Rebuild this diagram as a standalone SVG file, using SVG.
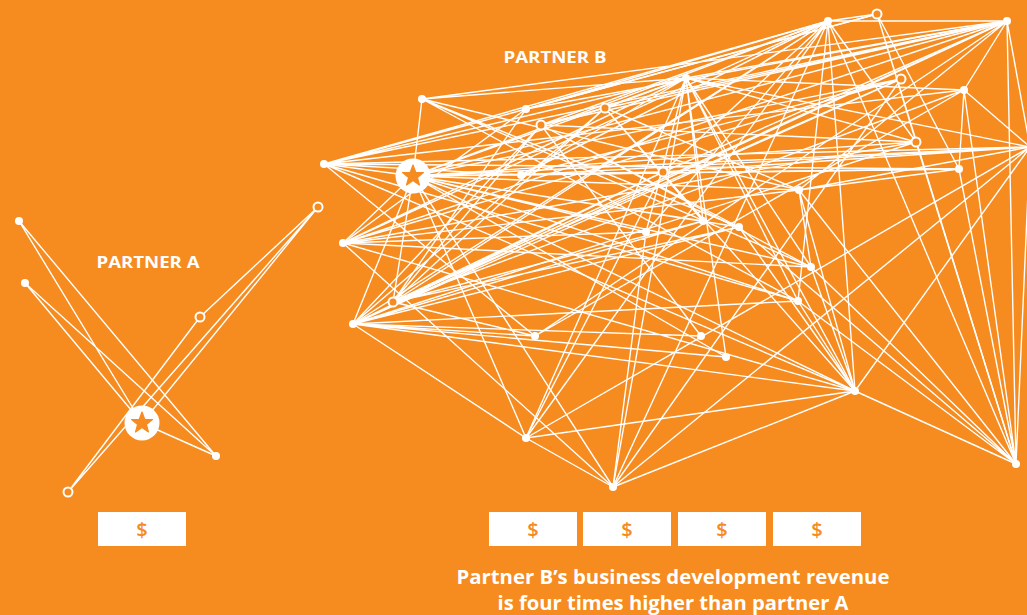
<svg xmlns="http://www.w3.org/2000/svg" width="1027" height="615" viewBox="0 0 1027 615">
  <defs>
    <style>
      .bg { fill: #F68B1F; }
      .edge { fill: none; stroke: #FFFFFF; stroke-width: 1.4; stroke-linecap: round; }
      .dot { fill: #FFFFFF; }
      .ring { fill: #F68B1F; stroke: #FFFFFF; stroke-width: 2; }
      .hub { fill: #FFFFFF; }
      .starmark { fill: #F68B1F; stroke: #F68B1F; stroke-width: 1.2; stroke-linejoin: round; }
      .label { fill: #FFFFFF; font-family: "Open Sans", "Liberation Sans", sans-serif; font-weight: 700; font-size: 16px; text-anchor: middle; }
      .caption { fill: #FFFFFF; font-family: "Open Sans", "Liberation Sans", sans-serif; font-weight: 700; font-size: 20px; text-anchor: middle; }
      .box { fill: #FFFFFF; }
      .cash { fill: #F68B1F; font-family: "Open Sans", "Liberation Sans", sans-serif; font-weight: 600; font-size: 20px; text-anchor: middle; }
    </style>
    <g id="star-hub">
      <circle class="hub" r="17.5"/>
      <polygon class="starmark" points="0,-11 2.7,-3.72 10.46,-3.4 4.37,1.42 6.47,8.9 0,4.6 -6.47,8.9 -4.37,1.42 -10.46,-3.4 -2.7,-3.72"/>
    </g>
  </defs>

  <rect class="bg" x="0" y="0" width="1027" height="615"/>

  <!-- connectors -->
  <g id="connectors">
    <!-- partner A network -->
    <path id="edges-a" class="edge" d="M19 221L142 423M19 221L216 456M25 283L142 423M25 283L216 456M318 207L200 317M318 207L142 423M318 207L68 492M200 317L68 492M142 423L216 456"/>
    <!-- partner B network -->
    <path id="edges-hub" class="edge" d="M413 176L324 164M413 176L422 99M413 176L686 78M413 176L828 21M413 176L1007 21M413 176L901 79M413 176L916 142M413 176L1030 147M413 176L959 169M413 176L799 190M413 176L703 221M413 176L739 227M413 176L811 267M413 176L798 301M413 176L646 232M413 176L393 302M413 176L353 324M413 176L526 438M413 176L613 487M413 176L855 391M413 176L726 357M413 176L663 172M413 176L521 175M413 176L343 243"/>
    <path id="edges-left" class="edge" d="M324 164L526 109M324 164L686 78M324 164L828 21M324 164L877 14M324 164L964 90M324 164L959 169M324 164L521 175M324 164L798 301M324 164L535 336M324 164L855 391M324 164L1030 147M324 164L1007 21M422 99L686 78M422 99L799 190M422 99L811 267M422 99L739 227M422 99L798 301M422 99L1007 21"/>
    <path id="edges-upper" class="edge" d="M526 109L828 21M526 109L1007 21M526 109L393 302M526 109L343 243M526 109L877 14M605 108L541 125M605 108L686 78M605 108L799 190M605 108L353 324M605 108L393 302M605 108L855 391M605 108L703 221M605 108L1007 21M541 125L828 21M541 125L916 142M541 125L739 227M541 125L811 267M541 125L393 302M541 125L353 324M541 125L1007 21M521 175L828 21M521 175L1030 147M521 175L959 169M521 175L686 78M663 172L828 21M663 172L393 302M663 172L353 324M663 172L1030 147M663 172L526 438M663 172L1007 21"/>
    <path id="edges-peak" class="edge" d="M686 78L1007 21M686 78L964 90M686 78L916 142M686 78L646 232M686 78L703 221M686 78L613 487M686 78L726 357M686 78L855 391M686 78L798 301M686 78L811 267M686 78L526 438M686 78L1030 147M686 78L343 243M828 21L877 14M828 21L1007 21M828 21L343 243M828 21L393 302M828 21L353 324M828 21L646 232M828 21L855 391M828 21L1016 464M828 21L613 487M828 21L916 142M828 21L798 301M828 21L526 438M877 14L916 142M877 14L1016 464M877 14L959 169"/>
    <path id="edges-right" class="edge" d="M1007 21L964 90M1007 21L1030 147M1007 21L1016 464M1007 21L343 243M1007 21L393 302M1007 21L353 324M1007 21L535 336M1007 21L799 190M901 79L343 243M901 79L393 302M901 79L353 324M901 79L613 487M901 79L521 175M964 90L959 169M964 90L393 302M964 90L535 336M964 90L1030 147M964 90L1016 464M916 142L343 243M916 142L353 324M916 142L1016 464M1030 147L799 190M1030 147L855 391M1030 147L613 487M1030 147L526 438M1030 147L1016 464M959 169L1016 464M959 169L799 190"/>
    <path id="edges-middle" class="edge" d="M799 190L811 267M799 190L343 243M799 190L855 391M799 190L1016 464M703 221L393 302M703 221L353 324M739 227L393 302M739 227L353 324M739 227L855 391M739 227L1016 464M646 232L343 243M646 232L613 487M343 243L613 487M343 243L811 267M811 267L1016 464M811 267L855 391M798 301L1016 464M798 301L353 324M798 301L855 391"/>
    <path id="edges-lower" class="edge" d="M393 302L535 336M353 324L526 438M353 324L726 357M353 324L535 336M353 324L855 391M701 336L353 324M701 336L541 125M855 391L1016 464M855 391L526 438M855 391L613 487M855 391L343 243M526 438L613 487"/>
  </g>

  <!-- partner A -->
  <g id="partner-a">
    <text class="label" x="148" y="268" textLength="103" lengthAdjust="spacingAndGlyphs">PARTNER A</text>
    <g id="a-nodes">
      <circle class="dot" cx="19" cy="221" r="4"/>
      <circle class="dot" cx="25" cy="283" r="4"/>
      <circle class="dot" cx="216" cy="456" r="4"/>
      <circle class="ring" cx="318" cy="207" r="4.5"/>
      <circle class="ring" cx="200" cy="317" r="4.5"/>
      <circle class="ring" cx="68" cy="492" r="4.5"/>
    </g>
    <use id="a-hub" href="#star-hub" x="142" y="423"/>
  </g>

  <!-- partner B -->
  <g id="partner-b">
    <text class="label" x="555" y="63" textLength="103" lengthAdjust="spacingAndGlyphs">PARTNER B</text>
    <g id="b-nodes">
      <circle class="dot" cx="324" cy="164" r="4"/>
      <circle class="dot" cx="422" cy="99" r="4"/>
      <circle class="dot" cx="526" cy="109" r="4"/>
      <circle class="ring" cx="605" cy="108" r="4.5"/>
      <circle class="ring" cx="541" cy="125" r="4.5"/>
      <circle class="dot" cx="521" cy="175" r="4"/>
      <circle class="ring" cx="663" cy="172" r="4.5"/>
      <circle class="dot" cx="686" cy="78" r="4"/>
      <circle class="dot" cx="828" cy="21" r="4"/>
      <circle class="ring" cx="877" cy="14" r="4.5"/>
      <circle class="dot" cx="1007" cy="21" r="4"/>
      <circle class="ring" cx="901" cy="79" r="4.5"/>
      <circle class="dot" cx="964" cy="90" r="4"/>
      <circle class="ring" cx="916" cy="142" r="4.5"/>
      <circle class="dot" cx="959" cy="169" r="4"/>
      <circle class="dot" cx="799" cy="190" r="4"/>
      <circle class="dot" cx="703" cy="221" r="4"/>
      <circle class="dot" cx="739" cy="227" r="4"/>
      <circle class="dot" cx="646" cy="232" r="4"/>
      <circle class="dot" cx="343" cy="243" r="4"/>
      <circle class="dot" cx="811" cy="267" r="4"/>
      <circle class="dot" cx="798" cy="301" r="4"/>
      <circle class="ring" cx="393" cy="302" r="4.5"/>
      <circle class="dot" cx="353" cy="324" r="4"/>
      <circle class="dot" cx="535" cy="336" r="4"/>
      <circle class="dot" cx="701" cy="336" r="4"/>
      <circle class="dot" cx="726" cy="357" r="4"/>
      <circle class="dot" cx="855" cy="391" r="4"/>
      <circle class="dot" cx="1016" cy="464" r="4"/>
      <circle class="dot" cx="526" cy="438" r="4"/>
      <circle class="dot" cx="613" cy="487" r="4"/>
    </g>
    <use id="b-hub" href="#star-hub" x="413" y="176"/>
  </g>

  <!-- revenue blocks -->
  <g id="revenue-a">
    <rect class="box" x="98" y="512" width="88" height="34"/>
    <text class="cash" x="142" y="537">$</text>
  </g>
  <g id="revenue-b">
    <rect class="box" x="489" y="512" width="88" height="34"/>
    <text class="cash" x="533" y="537">$</text>
    <rect class="box" x="583" y="512" width="88" height="34"/>
    <text class="cash" x="627" y="537">$</text>
    <rect class="box" x="678" y="512" width="88" height="34"/>
    <text class="cash" x="722" y="537">$</text>
    <rect class="box" x="773" y="512" width="88" height="34"/>
    <text class="cash" x="817" y="537">$</text>
  </g>

  <g id="caption">
    <text class="caption" x="673" y="584" textLength="433" lengthAdjust="spacingAndGlyphs">Partner B’s business development revenue</text>
    <text class="caption" x="673" y="610" textLength="351" lengthAdjust="spacingAndGlyphs">is four times higher than partner A</text>
  </g>
</svg>
